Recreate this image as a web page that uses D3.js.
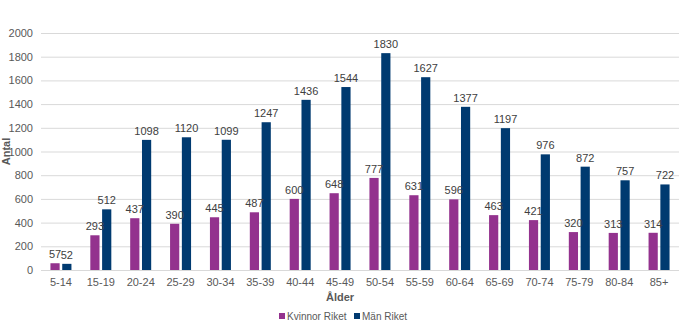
<!DOCTYPE html>
<html>
<head>
<meta charset="utf-8">
<script src="https://cdn.jsdelivr.net/npm/d3@7"></script>
<style>
  body { margin: 0; background: #fff; }
  svg { font-family: "Liberation Sans", Arial, sans-serif; }
</style>
</head>
<body>
<svg id="chart" width="680" height="330"></svg>
<script>
// data
const ageGroups = ['5-14', '15-19', '20-24', '25-29', '30-34', '35-39', '40-44', '45-49',
    '50-54', '55-59', '60-64', '65-69', '70-74', '75-79', '80-84', '85+'];
const kvinnor = [57, 293, 437, 390, 445, 487, 600, 648, 777, 631, 596, 463, 421, 320, 313, 314];
const man = [52, 512, 1098, 1120, 1099, 1247, 1436, 1544, 1830, 1627, 1377, 1197, 976, 872, 757, 722];
const yTicks = [0, 200, 400, 600, 800, 1000, 1200, 1400, 1600, 1800, 2000];

const seriesNames = ['Kvinnor Riket', 'Män Riket'];
const colors = ['#93328e', '#003a70'];

const svg = d3.select('#chart');
const margin = { top: 33, right: 1, bottom: 60, left: 41 };
const width = 680 - margin.left - margin.right,
    height = 330 - margin.top - margin.bottom;

const g = svg.append('g')
    .attr('transform', `translate(${margin.left},${margin.top})`);

const x = d3.scaleBand()
    .domain(ageGroups)
    .range([0, width]);

// two bars per group, about 9px each
const xSub = d3.scaleBand()
    .domain([0, 1])
    .range([x.bandwidth() / 2 - 10.5, x.bandwidth() / 2 + 10.5])
    .paddingInner(0.22);

const y = d3.scaleLinear()
    .domain([0, 2000])
    .range([height, 0]);

// grid
g.append('g')
    .selectAll('line')
    .data(yTicks)
    .join('line')
    .attr('x1', 0)
    .attr('x2', width)
    .attr('y1', d => y(d) + 0.5)
    .attr('y2', d => y(d) + 0.5)
    .attr('stroke', '#d9d9d9')
    .attr('stroke-width', 1);

// y axis
g.append('g')
    .call(d3.axisLeft(y).tickValues(yTicks).tickFormat(d3.format('d')).tickSize(0).tickPadding(8))
    .call(a => a.select('.domain').remove())
    .selectAll('text')
    .attr('fill', '#595959')
    .style('font-size', '11px');

// x axis
g.append('g')
    .attr('transform', `translate(0,${height})`)
    .call(d3.axisBottom(x).tickSize(0).tickPadding(8))
    .call(a => a.select('.domain').remove())
    .selectAll('text')
    .attr('fill', '#595959')
    .style('font-size', '11px');

// bars
const rows = ageGroups.map((a, i) => ({ age: a, values: [kvinnor[i], man[i]] }));

const groups = g.append('g')
    .selectAll('g')
    .data(rows)
    .join('g')
    .attr('transform', d => `translate(${x(d.age)},0)`);

groups.selectAll('rect')
    .data(d => d.values.map((v, s) => ({ v, s })))
    .join('rect')
    .attr('x', d => xSub(d.s))
    .attr('width', xSub.bandwidth())
    .attr('y', d => y(d.v))
    .attr('height', d => y(0) - y(d.v))
    .attr('fill', d => colors[d.s]);

groups.selectAll('text')
    .data(d => d.values.map((v, s) => ({ v, s })))
    .join('text')
    .attr('x', d => xSub(d.s) + xSub.bandwidth() / 2)
    .attr('y', d => y(d.v) - 5)
    .attr('text-anchor', 'middle')
    .attr('fill', '#404040')
    .style('font-size', '11px')
    .text(d => d.v);

// axis titles
svg.append('text')
    .attr('transform', `translate(10,${margin.top + height / 2}) rotate(-90)`)
    .attr('text-anchor', 'middle')
    .attr('fill', '#595959')
    .style('font-size', '11px')
    .style('font-weight', 'bold')
    .text('Antal');

svg.append('text')
    .attr('x', 340)
    .attr('y', 301)
    .attr('text-anchor', 'middle')
    .attr('fill', '#595959')
    .style('font-size', '11px')
    .style('font-weight', 'bold')
    .text('Ålder');

// legend
const legend = svg.append('g')
    .attr('transform', 'translate(279,317)');

const item = legend.selectAll('g')
    .data(seriesNames)
    .join('g')
    .attr('transform', (d, i) => `translate(${i * 75},0)`);

item.append('rect')
    .attr('x', 0)
    .attr('y', -4)
    .attr('width', 6)
    .attr('height', 6)
    .attr('fill', (d, i) => colors[i]);

item.append('text')
    .attr('x', 8)
    .attr('y', 3)
    .attr('fill', '#595959')
    .style('font-size', '10px')
    .text(d => d);
</script>
</body>
</html>
